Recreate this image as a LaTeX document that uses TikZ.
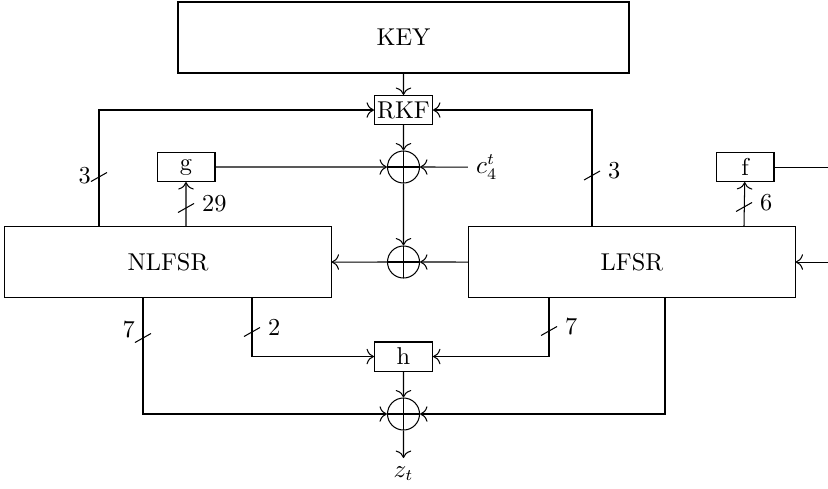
\documentclass[tikz,border=0pt]{standalone}
\usepackage{amsmath}
\usepackage{xcolor}
\usepackage{tikz}
\usetikzlibrary{arrows.meta}

\tikzset{
  blk/.style={draw, minimum width=0.887cm, minimum height=0.444cm, inner sep=0.5pt},
  reg/.style={draw, minimum width=4.99cm, minimum height=1.10cm},
  xorop/.style={draw, circle, minimum size=0.49cm, inner sep=0pt,
    path picture={\draw (path picture bounding box.north) -- (path picture bounding box.south)
      (path picture bounding box.west) -- (path picture bounding box.east);}},
}

\begin{document}
\begin{tikzpicture}[scale=0.765, line width=0.45pt, >={To[scale=1.25]},
  font=\fontsize{10.6}{12.7}\selectfont]
\useasboundingbox (0,0) rectangle (16.56,9.76);
\clip (0,0) rectangle (16.56,9.76);

% Blocks
\node[draw, minimum width=6.9cm, minimum height=1.086cm] (key) at (8.07,9.01) {KEY};
\node[blk] (rkf) at (8.07,7.56) {RKF};
\node[xorop] (xa) at (8.07,6.42) {};
\node[blk] (g) at (3.72,6.42) {g};
\node[blk] (f) at (14.9,6.42) {f};
\node[right] (ct) at (9.36,6.42) {$c_4^t$};
\node[reg] (nlfsr) at (3.36,4.52) {NLFSR};
\node[reg] (lfsr) at (12.64,4.52) {LFSR};
\node[xorop] (xb) at (8.07,4.52) {};
\node[blk] (h) at (8.07,2.63) {h};
\node[xorop] (xc) at (8.07,1.48) {};
\node[below] (zt) at (8.07,0.6) {$z_t$};

% Taps on the registers
\coordinate (t1) at (1.98,5.24);
\coordinate (t2) at (3.72,5.24);
\coordinate (t3) at (11.84,5.24);
\coordinate (t4) at (14.88,5.24);
\coordinate (t5) at (2.86,3.80);
\coordinate (t6) at (5.04,3.80);
\coordinate (t7) at (10.98,3.80);
\coordinate (t8) at (13.30,3.80);
\coordinate (fb) at (17.2,5.5);

% Middle column
\draw[->] (key) -- (rkf);
\draw[->] (rkf) -- (xa);
\draw[->] (xa) -- (xb);
\draw[->] (g) -- (xa);
\draw[->] (ct) -- (xa);
\draw[->] (lfsr) -- (xb);
\draw[->] (xb) -- (nlfsr);
\draw[->] (h) -- (xc);
\draw[->] (xc) -- (zt);

% Key feedback
\draw[->] (t1) |- (rkf);
\draw[->] (t3) |- (rkf);

% g and f
\draw[->] (t2) -- (g);
\draw[->] (t4) -- (f);
\draw[->] (f) -| (fb) |- (lfsr);

% Output taps
\draw[->] (t5) |- (xc);
\draw[->] (t6) |- (h);
\draw[->] (t7) |- (h);
\draw[->] (t8) |- (xc);

% Bus widths
\draw (1.82,6.13) -- (2.14,6.31);
\node[left] (w3a) at (1.98,6.25) {3};
\draw (11.68,6.16) -- (12.00,6.34) node[right] (w3b) {3};
\draw (3.56,5.51) -- (3.88,5.69) node[right] (w29) {29};
\draw (14.72,5.53) -- (15.04,5.71) node[right] (w6) {6};
\draw (2.70,2.91) -- (3.02,3.09);
\node[left] (w7a) at (2.86,3.17) {7};
\draw (4.88,3.03) -- (5.20,3.21) node[right] (w2) {2};
\draw (10.82,3.05) -- (11.14,3.23) node[right] (w7b) {7};

\end{tikzpicture}
\end{document}
